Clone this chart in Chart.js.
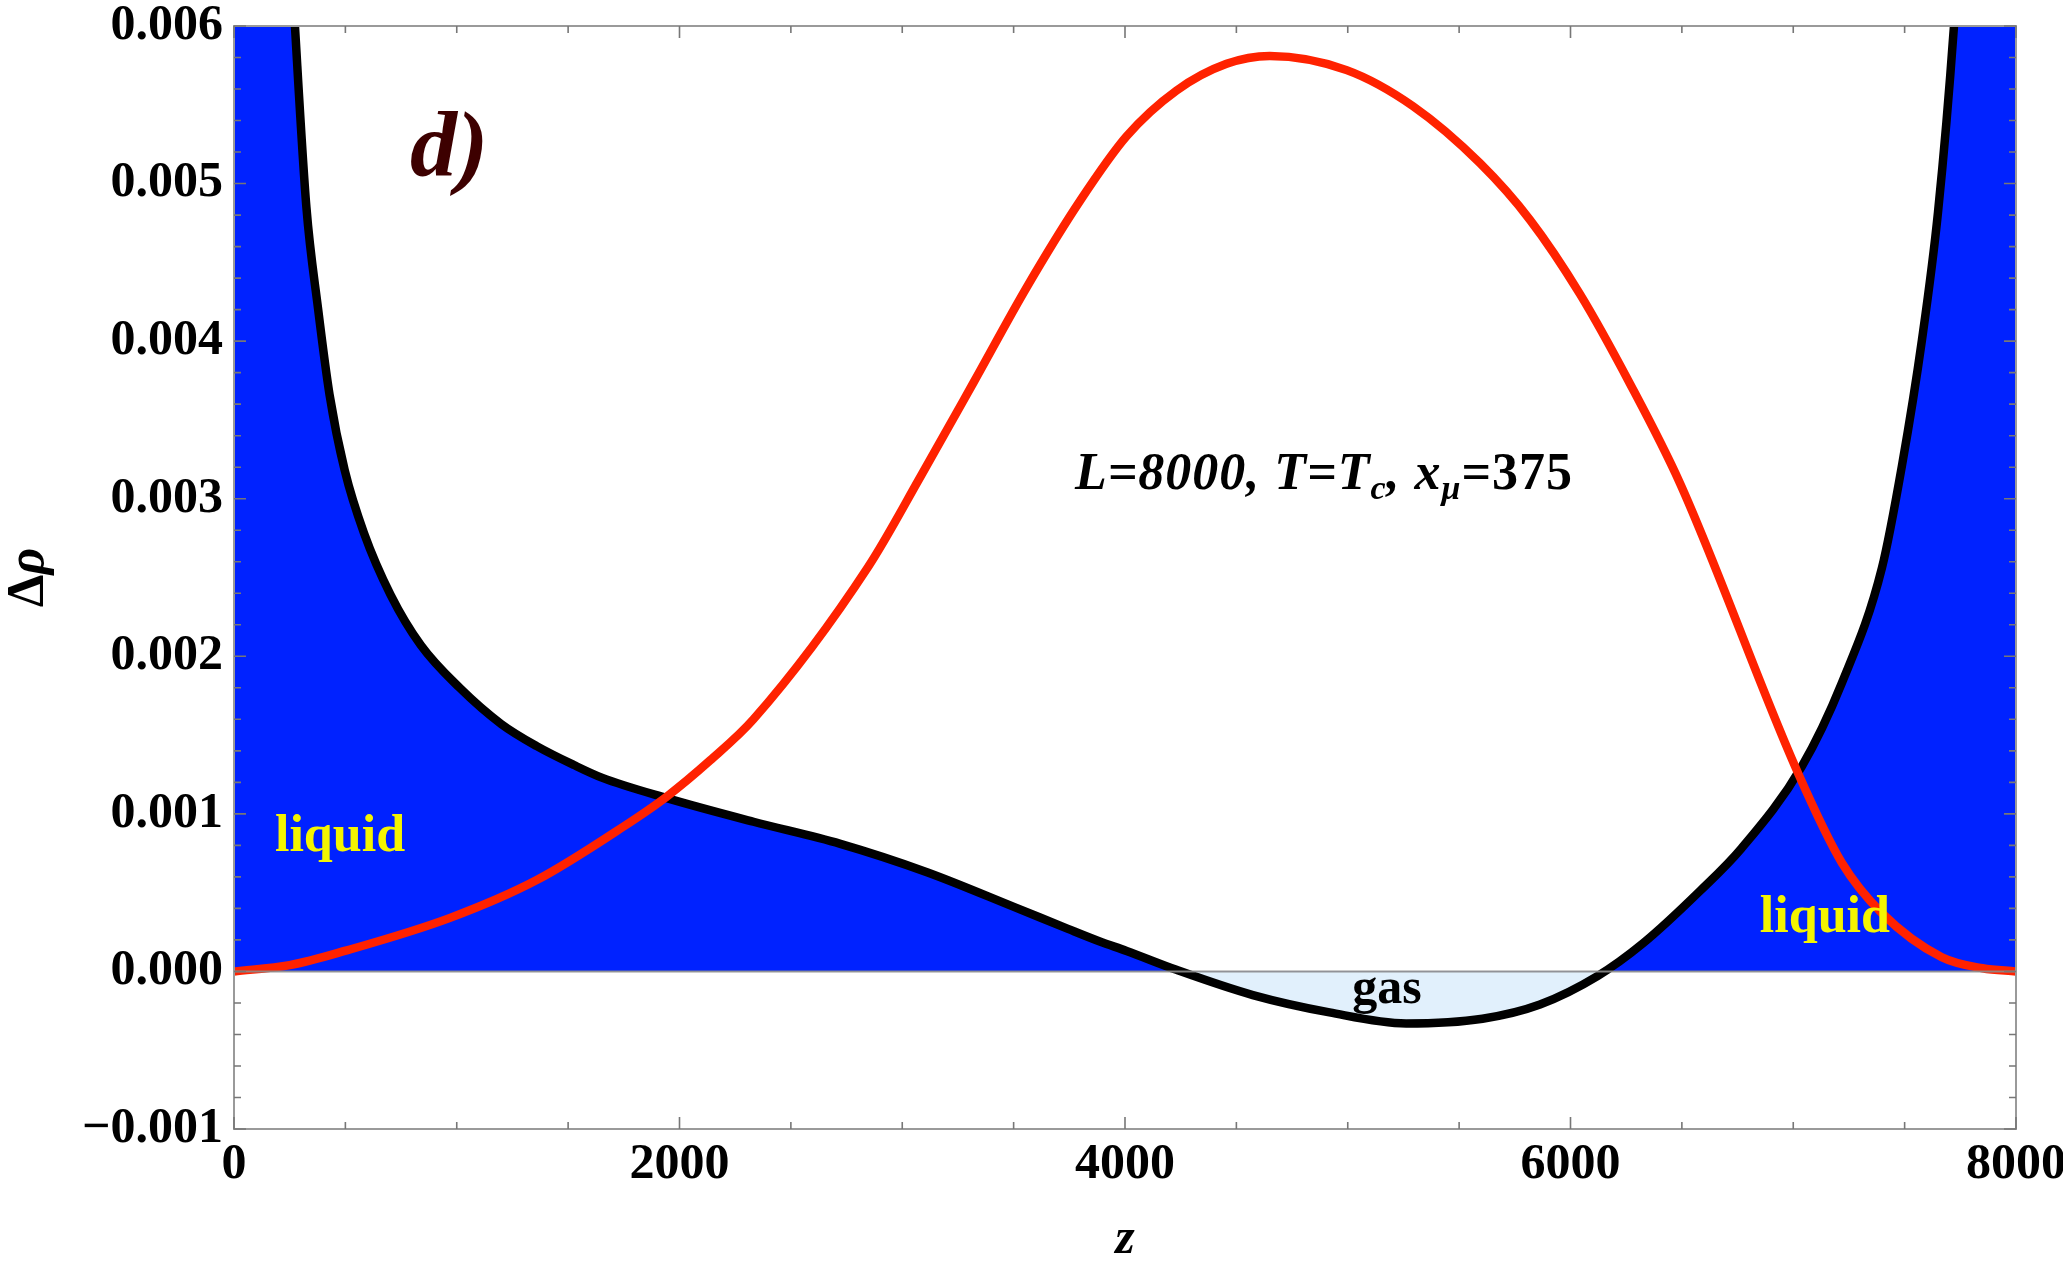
<!DOCTYPE html>
<html>
<head>
<meta charset="utf-8">
<script src="https://cdn.jsdelivr.net/npm/chart.js@4.4.1/dist/chart.umd.min.js"></script>
<style>
html,body{margin:0;padding:0;background:#fff;overflow:hidden;}
#wrap{width:2063px;height:1263px;}
</style>
</head>
<body>
<div id="wrap"><canvas id="c" width="2063" height="1263"></canvas></div>
<script>
// ---- data ----
const zBlack = [0,150,230,274,325,377,429,497,584,703,839,1013,1200,1359,1526,1651,1943,2332,2722,3111,3501,3744,3887,4007,4231,4574,4918,5262,5605,5863,6121,6327,6581,6767,7038,7218,7398,7488,7578,7650,7721,7800,7880,8000];
const rhoBlack = [0.020,0.0095,0.0071,0.00599,0.00485,0.00421,0.00366,0.00318,0.00278,0.00239,0.00207,0.00180,0.00157,0.00143,0.00131,0.00123,0.00110,0.00095,0.00081,0.00063,0.00041,0.00027,0.00019,0.00013,0.00001,-0.00015,-0.00026,-0.00033,-0.00030,-0.00021,-0.00003,0.00018,0.00051,0.00078,0.00130,0.00183,0.00256,0.00321,0.00401,0.00482,0.00599,0.0078,0.0105,0.020];
const zRed = [0,250,497,970,1359,1749,1943,2138,2332,2848,3082,3321,3558,3798,4007,4231,4456,4650,4995,5294,5593,5818,6042,6267,6491,7021,7218,7398,7667,7850,8000];
const rhoRed = [0,0.00004,0.00013,0.00034,0.00058,0.00092,0.00111,0.00134,0.00160,0.00257,0.00314,0.00374,0.00434,0.00489,0.00530,0.00559,0.00576,0.00581,0.00572,0.00549,0.00513,0.00477,0.00430,0.00373,0.00310,0.00126,0.00069,0.00037,0.00009,0.00002,0];
const xTickLabels = [0,2000,4000,6000,8000];
const yTickLabels = [-0.001,0,0.001,0.002,0.003,0.004,0.005,0.006];
const xMinorStep = 500;
const yMinorStep = 0.0002;

const W = 2063, H = 1263;
const PLOT = {left:234, top:26, right:2016, bottom:1129};
const SERIF = '"Liberation Serif", "Times New Roman", serif';

const blackPts = zBlack.map((z,i)=>({x:z,y:rhoBlack[i]}));
const redPts = zRed.map((z,i)=>({x:z,y:rhoRed[i]}));

const frameTicks = {
  id:'frameTicks',
  afterDatasetsDraw(chart){
    const {ctx, chartArea:{left,right,top,bottom}, scales:{x,y}} = chart;
    ctx.save();
    ctx.strokeStyle = 'rgba(140,140,140,0.9)';
    ctx.lineWidth = 2;
    const y0 = y.getPixelForValue(0);
    ctx.beginPath(); ctx.moveTo(left,y0); ctx.lineTo(right,y0); ctx.stroke();
    ctx.strokeStyle = '#9a9a9a';
    ctx.lineWidth = 2;
    ctx.strokeRect(left,top,right-left,bottom-top);
    ctx.strokeStyle = '#777';
    ctx.lineWidth = 1.6;
    ctx.beginPath();
    for (let v = x.min; v <= x.max + 1e-9; v += xMinorStep){
      const px = x.getPixelForValue(v);
      const major = xTickLabels.some(t=>Math.abs(t-v)<1e-6);
      const len = major ? 12 : 7;
      ctx.moveTo(px,bottom); ctx.lineTo(px,bottom-len);
      ctx.moveTo(px,top); ctx.lineTo(px,top+len);
    }
    const n = Math.round((y.max - y.min)/yMinorStep);
    for (let i=0;i<=n;i++){
      const v = y.min + i*yMinorStep;
      const py = y.getPixelForValue(v);
      const major = yTickLabels.some(t=>Math.abs(t-v)<1e-9);
      const len = major ? 12 : 7;
      ctx.moveTo(left,py); ctx.lineTo(left+len,py);
      ctx.moveTo(right,py); ctx.lineTo(right-len,py);
    }
    ctx.stroke();
    ctx.restore();
  }
};

const labelsPlugin = {
  id:'labelsPlugin',
  afterDraw(chart){
    const {ctx, scales:{x,y}} = chart;
    ctx.save();
    ctx.textBaseline = 'alphabetic';
    // y axis title: upright Delta, italic rho
    ctx.save();
    ctx.translate(43, (chart.chartArea.top + chart.chartArea.bottom)/2);
    ctx.rotate(-Math.PI/2);
    ctx.fillStyle = '#000';
    ctx.font = 'bold 52px ' + SERIF;
    const wD = ctx.measureText('\u0394').width;
    ctx.font = 'italic bold 52px ' + SERIF;
    const wR = ctx.measureText('\u03c1').width;
    let sx = -(wD + wR)/2;
    ctx.textAlign = 'left';
    ctx.font = 'bold 52px ' + SERIF;
    ctx.fillText('\u0394', sx, 0);
    ctx.font = 'italic bold 52px ' + SERIF;
    ctx.fillText('\u03c1', sx + wD, 0);
    ctx.restore();
    // d)
    ctx.fillStyle = '#3d0000';
    ctx.textAlign = 'left';
    ctx.font = 'italic bold 94px ' + SERIF;
    ctx.fillText('d)', x.getPixelForValue(790), y.getPixelForValue(0.00505));
    // liquid labels
    ctx.fillStyle = '#f4f400';
    ctx.textAlign = 'center';
    ctx.font = 'bold 52px ' + SERIF;
    ctx.fillText('liquid', x.getPixelForValue(476), y.getPixelForValue(0.000764));
    ctx.fillText('liquid', x.getPixelForValue(7142), y.getPixelForValue(0.00025));
    // gas
    ctx.fillStyle = '#000';
    ctx.font = 'bold 50px ' + SERIF;
    ctx.fillText('gas', x.getPixelForValue(5176), y.getPixelForValue(-0.0002));
    // parameter annotation
    ctx.textAlign = 'left';
    ctx.letterSpacing = '1px';
    let px = x.getPixelForValue(3775);
    const by = y.getPixelForValue(0.00306);
    const parts = [
      ['L=8000, T=T', 'italic bold 52px', 0],
      ['c', 'italic bold 34px', 10],
      [', x', 'italic bold 52px', 0],
      ['\u03bc', 'italic bold 34px', 10],
      ['=375', 'bold 52px', 0]
    ];
    for (const [t,f,dy] of parts){
      ctx.font = f + ' ' + SERIF;
      ctx.fillText(t, px, by + dy);
      px += ctx.measureText(t).width;
    }
    ctx.restore();
  }
};

new Chart(document.getElementById('c'), {
  type:'line',
  data:{
    datasets:[
      {
        label:'red',
        data: redPts,
        borderColor:'#ff2200',
        borderWidth:8.5,
        pointRadius:0,
        fill:false,
        cubicInterpolationMode:'monotone',
        order:0
      },
      {
        label:'black',
        data: blackPts,
        borderColor:'#000000',
        borderWidth:8.5,
        pointRadius:0,
        fill:{target:'origin', above:'#0022ff', below:'#e1f0fc'},
        cubicInterpolationMode:'monotone',
        clip:0,
        order:1
      }
    ]
  },
  options:{
    responsive:false,
    devicePixelRatio:1,
    animation:false,
    events:[],
    layout:{padding:{left:0, top:PLOT.top, right:W-PLOT.right, bottom:0}},
    plugins:{legend:{display:false}, tooltip:{enabled:false}},
    scales:{
      x:{
        type:'linear', min:0, max:8000,
        afterBuildTicks(s){ s.ticks = xTickLabels.map(v=>({value:v})); },
        ticks:{font:{family:SERIF, weight:'bold', size:50}, color:'#000', padding:6, maxRotation:0, autoSkip:false,
          callback:(v)=>String(v)},
        grid:{display:false, drawTicks:false},
        border:{display:false},
        title:{display:true, text:'z', color:'#000', font:{family:SERIF, weight:'bold', style:'italic', size:50, lineHeight:'46px'}, padding:0},
        afterFit(s){ s.height = H - PLOT.bottom; s.paddingLeft = 0; s.paddingRight = 0; }
      },
      y:{
        type:'linear', min:-0.001, max:0.006,
        afterBuildTicks(s){ s.ticks = yTickLabels.map(v=>({value:v})); },
        ticks:{font:{family:SERIF, weight:'bold', size:50}, color:'#000', padding:11, autoSkip:false,
          callback:(v)=> (v<0?'\u2212':'') + Math.abs(v).toFixed(3)},
        grid:{display:false, drawTicks:false},
        border:{display:false},
        title:{display:false, text:'\u0394\u03c1'},
        afterFit(s){ s.width = PLOT.left; s.paddingTop = 0; s.paddingBottom = 0; }
      }
    }
  },
  plugins:[frameTicks, labelsPlugin]
});
</script>
</body>
</html>
